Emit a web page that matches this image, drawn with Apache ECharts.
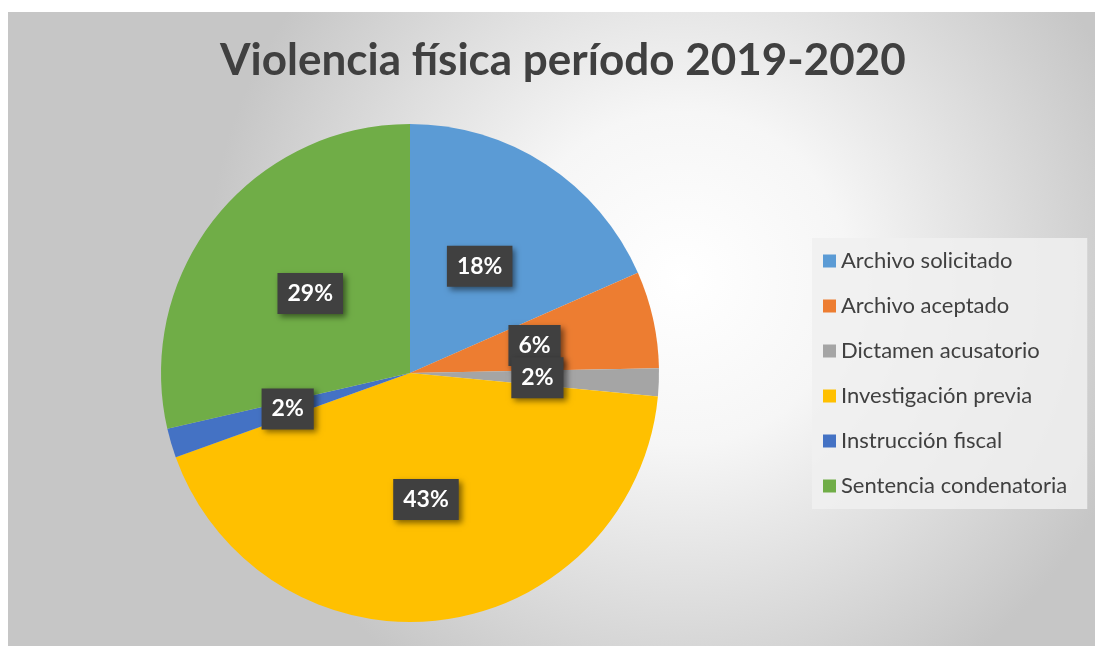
<!DOCTYPE html>
<html>
<head>
<meta charset="utf-8">
<script src="https://cdn.jsdelivr.net/npm/echarts@6/dist/echarts.min.js"></script>
<style>
html,body{margin:0;padding:0;background:#fff;}
#c{width:1095px;height:646px;}
</style>
</head>
<body>
<div id="c"></div>
<script>
const title = 'Violencia física período 2019-2020';
const categories = ['Archivo solicitado','Archivo aceptado','Dictamen acusatorio','Investigación previa','Instrucción fiscal','Sentencia condenatoria'];
const values = [18.4, 6.3, 1.8, 43.0, 1.9, 28.6];
const colors = ['#5B9BD5','#ED7D31','#A5A5A5','#FFC000','#4472C4','#70AD47'];

const chart = echarts.init(document.getElementById('c'), null, {renderer:'canvas'});
const FONT = 'Lato, "Open Sans", sans-serif';
chart.setOption({
  animation:false,
  color: colors,
  graphic:[{
    type:'rect', z:-10, silent:true,
    shape:{x:8,y:12,width:1087,height:634},
    style:{fill:new echarts.graphic.RadialGradient(0.62,0.42,0.75,[
      {offset:0,color:'#ffffff'},{offset:0.35,color:'#f6f6f6'},{offset:1,color:'#c6c6c6'}])}
  }],
  title:{
    text:title, left:215, top:34,
    textStyle:{fontFamily:FONT, fontSize:44, fontWeight:'bold', color:'#404040'}
  },
  legend:{
    orient:'vertical', left:812, top:238,
    padding:[12,20,12,11],
    backgroundColor:'rgba(240,240,240,0.85)',
    itemWidth:13, itemHeight:13, itemGap:23,
    icon:'rect',
    textStyle:{fontFamily:FONT, fontSize:22, color:'#404040', lineHeight:22},
    data:categories
  },
  series:[{
    type:'pie',
    center:[410,373], radius:249,
    startAngle:90, clockwise:true,
    labelLayout:{hideOverlap:false},
    label:{
      show:true, position:'inside',
      formatter:p=>Math.round(p.percent)+'%',
      fontFamily:FONT, fontSize:23, fontWeight:'bold', color:'#fff',
      backgroundColor:'#404040', padding:[9,10,9,10],
      shadowColor:'rgba(0,0,0,0.5)', shadowBlur:6, shadowOffsetX:3, shadowOffsetY:3
    },
    labelLine:{show:false},
    itemStyle:{borderWidth:0},
    emphasis:{disabled:true},
    data:categories.map((n,i)=>({name:n, value:values[i]}))
  }]
});
</script>
</body>
</html>
